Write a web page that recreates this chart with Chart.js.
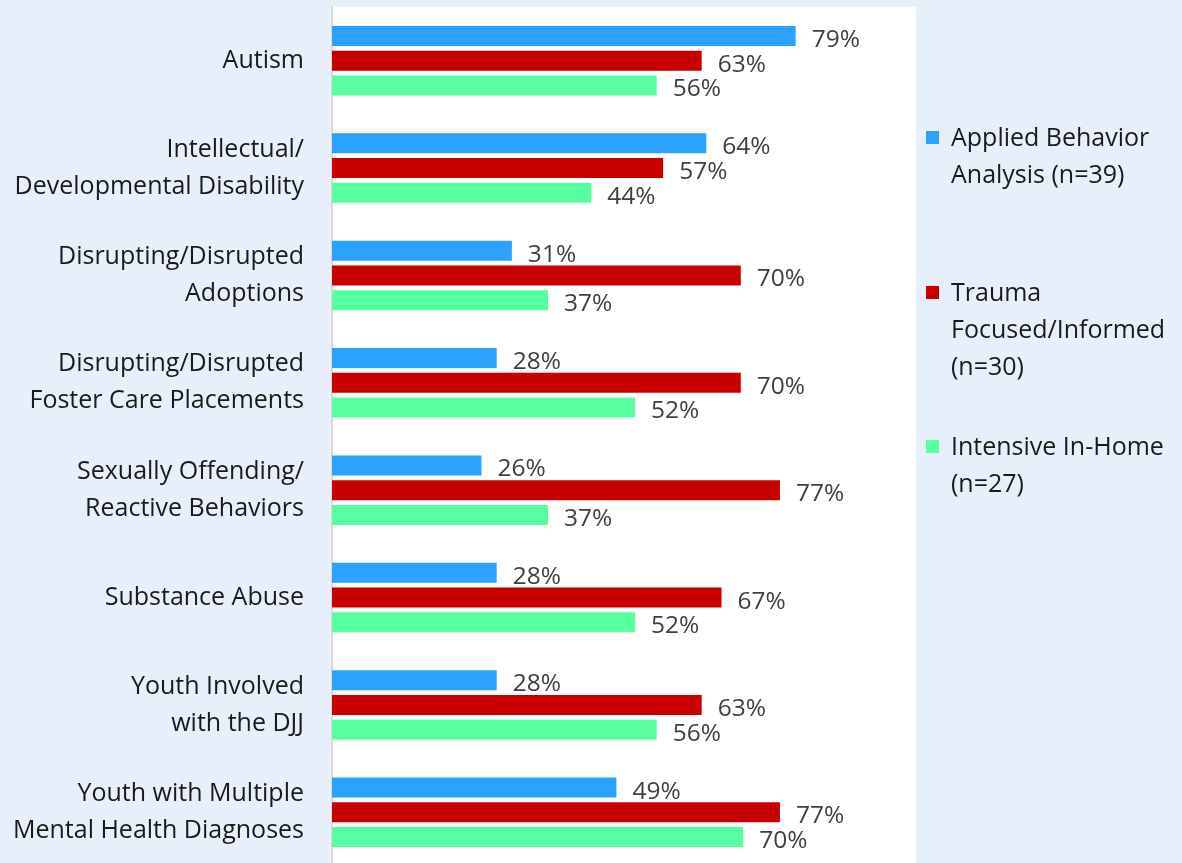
<!DOCTYPE html>
<html lang="en">
<head>
  <meta charset="UTF-8">
  <title>Specialty Services by Provider Type</title>
  <script src="https://cdn.jsdelivr.net/npm/chart.js"></script>
  <style>
    body {
      margin: 0;
      background: #e7f0fa;
      overflow: hidden;
    }
    .chart-wrapper {
      position: relative;
      width: 1182px;
      height: 866px;
    }
  </style>
</head>
<body>
  <div class="chart-wrapper">
    <canvas id="servicesChart"></canvas>
  </div>

  <script>
    // Data
    const categories = [
      "Autism",
      ["Intellectual/", "Developmental Disability"],
      ["Disrupting/Disrupted", "Adoptions"],
      ["Disrupting/Disrupted", "Foster Care Placements"],
      ["Sexually Offending/", "Reactive Behaviors"],
      "Substance Abuse",
      ["Youth Involved", "with the DJJ"],
      ["Youth with Multiple", "Mental Health Diagnoses"]
    ];
    const seriesNames = [
      ["Applied Behavior", "Analysis (n=39)"],
      ["Trauma", "Focused/Informed", "(n=30)"],
      ["Intensive In-Home", "(n=27)"]
    ];
    const abaValues = [79.4, 64.1, 30.8, 28.2, 25.6, 28.2, 28.2, 48.7];
    const traumaValues = [63.3, 56.7, 70.0, 70.0, 76.7, 66.7, 63.3, 76.7];
    const inHomeValues = [55.6, 44.4, 37.0, 51.9, 37.0, 51.9, 55.6, 70.4];
    const seriesColors = ['#2ca2ff', '#c80000', '#58ffa1'];

    const FONT = "'Open Sans', 'Noto Sans', sans-serif";

    // white plot area
    const plotBackground = {
      id: 'plotBackground',
      beforeDraw(chart) {
        const { ctx, chartArea } = chart;
        ctx.save();
        ctx.fillStyle = '#ffffff';
        ctx.fillRect(chartArea.left, chartArea.top, chartArea.right - chartArea.left, chartArea.bottom - chartArea.top);
        ctx.restore();
      }
    };

    // percentage labels after each bar
    const valueLabels = {
      id: 'valueLabels',
      afterDatasetsDraw(chart) {
        const { ctx } = chart;
        ctx.save();
        ctx.font = '24.5px ' + FONT;
        ctx.fillStyle = '#404040';
        ctx.textAlign = 'left';
        ctx.textBaseline = 'middle';
        chart.data.datasets.forEach((ds, i) => {
          chart.getDatasetMeta(i).data.forEach((bar, j) => {
            ctx.fillText(Math.round(ds.data[j]) + '%', bar.x + 16, bar.y + 4);
          });
        });
        ctx.restore();
      }
    };

    // wrapped legend on the right
    const sideLegend = {
      id: 'sideLegend',
      afterDraw(chart) {
        const { ctx, chartArea } = chart;
        const startY = [139, 294, 448];
        const x = chartArea.right + 10;
        ctx.save();
        ctx.font = '25px ' + FONT;
        ctx.textAlign = 'left';
        ctx.textBaseline = 'middle';
        chart.data.datasets.forEach((ds, i) => {
          ctx.fillStyle = ds.backgroundColor;
          ctx.fillRect(x, startY[i] - 8, 13, 13);
          ctx.fillStyle = '#1a1a1a';
          ds.legendLines.forEach((line, k) => {
            ctx.fillText(line, x + 25, startY[i] + k * 37);
          });
        });
        ctx.restore();
      }
    };

    const ctx = document.getElementById('servicesChart').getContext('2d');
    const servicesChart = new Chart(ctx, {
      type: 'bar',
      data: {
        labels: categories,
        datasets: [abaValues, traumaValues, inHomeValues].map((vals, i) => ({
          label: seriesNames[i].join(' '),
          legendLines: seriesNames[i],
          data: vals,
          backgroundColor: seriesColors[i],
          borderWidth: 0,
          categoryPercentage: 0.69,
          barPercentage: 0.81
        }))
      },
      options: {
        indexAxis: 'y',
        responsive: true,
        maintainAspectRatio: false,
        animation: false,
        layout: {
          padding: { top: 7, right: 266, bottom: 0, left: 0 }
        },
        plugins: {
          legend: { display: false },
          tooltip: { enabled: false }
        },
        scales: {
          x: {
            display: false,
            min: 0,
            max: 100
          },
          y: {
            afterFit(scale) {
              scale.width = 332;
              scale.paddingTop = 0;
              scale.paddingBottom = 0;
            },
            grid: { display: false, drawTicks: false },
            border: { display: true, color: '#d9d9d9', width: 2 },
            ticks: {
              color: '#1a1a1a',
              padding: 28,
              font: { family: FONT, size: 25, lineHeight: 1.48 }
            }
          }
        }
      },
      plugins: [plotBackground, valueLabels, sideLegend]
    });
  </script>
</body>
</html>
